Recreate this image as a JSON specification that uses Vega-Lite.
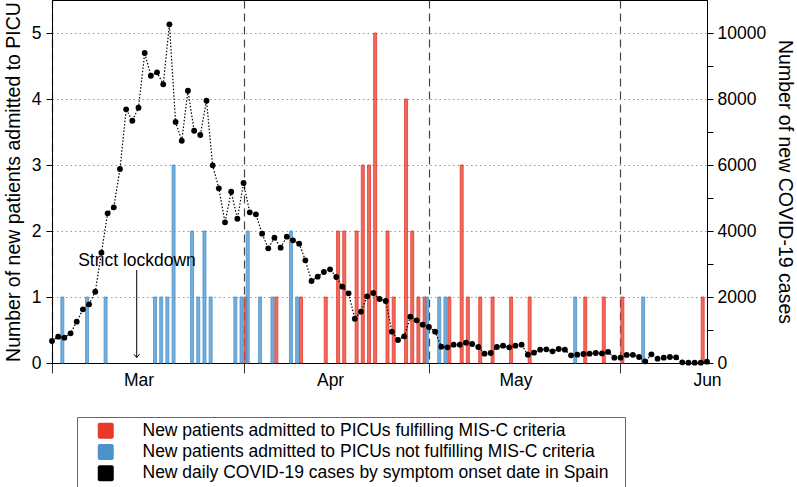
{
  "$schema": "https://vega.github.io/schema/vega-lite/v6.json",
  "width": 655,
  "height": 363,
  "autosize": {"type": "none"},
  "padding": {"left": 52, "top": 0, "right": 90, "bottom": 124},
  "background": "white",
  "config": {
    "font": "Liberation Sans",
    "view": {"stroke": "black", "strokeWidth": 1},
    "axis": {
      "labelFont": "Liberation Sans",
      "titleFont": "Liberation Sans",
      "labelFontSize": 17.5,
      "titleFontSize": 19.5,
      "titleFontWeight": "normal",
      "labelColor": "black",
      "titleColor": "black",
      "domainColor": "black",
      "tickColor": "black",
      "domainWidth": 1,
      "tickWidth": 1
    }
  },
  "datasets": {
    "cases": [
      {"date": "2020-03-01", "cases": 667}, {"date": "2020-03-02", "cases": 797}, {"date": "2020-03-03", "cases": 767},
      {"date": "2020-03-04", "cases": 900}, {"date": "2020-03-05", "cases": 1252}, {"date": "2020-03-06", "cases": 1627},
      {"date": "2020-03-07", "cases": 1779}, {"date": "2020-03-08", "cases": 2160}, {"date": "2020-03-09", "cases": 3342},
      {"date": "2020-03-10", "cases": 4535}, {"date": "2020-03-11", "cases": 4718}, {"date": "2020-03-12", "cases": 5878},
      {"date": "2020-03-13", "cases": 7687}, {"date": "2020-03-14", "cases": 7342}, {"date": "2020-03-15", "cases": 7736},
      {"date": "2020-03-16", "cases": 9393}, {"date": "2020-03-17", "cases": 8705}, {"date": "2020-03-18", "cases": 8808},
      {"date": "2020-03-19", "cases": 8445}, {"date": "2020-03-20", "cases": 10262}, {"date": "2020-03-21", "cases": 7302},
      {"date": "2020-03-22", "cases": 6736}, {"date": "2020-03-23", "cases": 8251}, {"date": "2020-03-24", "cases": 7039},
      {"date": "2020-03-25", "cases": 6908}, {"date": "2020-03-26", "cases": 7948}, {"date": "2020-03-27", "cases": 5990},
      {"date": "2020-03-28", "cases": 5293}, {"date": "2020-03-29", "cases": 4263}, {"date": "2020-03-30", "cases": 5190},
      {"date": "2020-03-31", "cases": 4372}, {"date": "2020-04-01", "cases": 5454}, {"date": "2020-04-02", "cases": 4566},
      {"date": "2020-04-03", "cases": 4505}, {"date": "2020-04-04", "cases": 3918}, {"date": "2020-04-05", "cases": 3475},
      {"date": "2020-04-06", "cases": 3797}, {"date": "2020-04-07", "cases": 3494}, {"date": "2020-04-08", "cases": 3827},
      {"date": "2020-04-09", "cases": 3718}, {"date": "2020-04-10", "cases": 3615}, {"date": "2020-04-11", "cases": 3112},
      {"date": "2020-04-12", "cases": 2485}, {"date": "2020-04-13", "cases": 2615}, {"date": "2020-04-14", "cases": 2757},
      {"date": "2020-04-15", "cases": 2838}, {"date": "2020-04-16", "cases": 2606}, {"date": "2020-04-17", "cases": 2312},
      {"date": "2020-04-18", "cases": 2111}, {"date": "2020-04-19", "cases": 1342}, {"date": "2020-04-20", "cases": 1555},
      {"date": "2020-04-21", "cases": 2020}, {"date": "2020-04-22", "cases": 2121}, {"date": "2020-04-23", "cases": 1939},
      {"date": "2020-04-24", "cases": 1879}, {"date": "2020-04-25", "cases": 949}, {"date": "2020-04-26", "cases": 697},
      {"date": "2020-04-27", "cases": 808}, {"date": "2020-04-28", "cases": 1404}, {"date": "2020-04-29", "cases": 1293},
      {"date": "2020-04-30", "cases": 1161}, {"date": "2020-05-01", "cases": 1091}, {"date": "2020-05-02", "cases": 949},
      {"date": "2020-05-03", "cases": 494}, {"date": "2020-05-04", "cases": 475}, {"date": "2020-05-05", "cases": 555},
      {"date": "2020-05-06", "cases": 555}, {"date": "2020-05-07", "cases": 616}, {"date": "2020-05-08", "cases": 576},
      {"date": "2020-05-09", "cases": 485}, {"date": "2020-05-10", "cases": 283}, {"date": "2020-05-11", "cases": 303},
      {"date": "2020-05-12", "cases": 485}, {"date": "2020-05-13", "cases": 525}, {"date": "2020-05-14", "cases": 475},
      {"date": "2020-05-15", "cases": 525}, {"date": "2020-05-16", "cases": 555}, {"date": "2020-05-17", "cases": 253},
      {"date": "2020-05-18", "cases": 313}, {"date": "2020-05-19", "cases": 404}, {"date": "2020-05-20", "cases": 414},
      {"date": "2020-05-21", "cases": 354}, {"date": "2020-05-22", "cases": 424}, {"date": "2020-05-23", "cases": 404},
      {"date": "2020-05-24", "cases": 232}, {"date": "2020-05-25", "cases": 253}, {"date": "2020-05-26", "cases": 273},
      {"date": "2020-05-27", "cases": 283}, {"date": "2020-05-28", "cases": 303}, {"date": "2020-05-29", "cases": 290},
      {"date": "2020-05-30", "cases": 335}, {"date": "2020-05-31", "cases": 162}, {"date": "2020-06-01", "cases": 162},
      {"date": "2020-06-02", "cases": 245}, {"date": "2020-06-03", "cases": 248}, {"date": "2020-06-04", "cases": 182},
      {"date": "2020-06-05", "cases": 50}, {"date": "2020-06-06", "cases": 263}, {"date": "2020-06-07", "cases": 131},
      {"date": "2020-06-08", "cases": 162}, {"date": "2020-06-09", "cases": 182}, {"date": "2020-06-10", "cases": 172},
      {"date": "2020-06-11", "cases": 20}, {"date": "2020-06-12", "cases": 10}, {"date": "2020-06-13", "cases": 10},
      {"date": "2020-06-14", "cases": 10}, {"date": "2020-06-15", "cases": 40}
    ],
    "picu": [
      {"date": "2020-03-02", "count": 1, "group": "New patients admitted to PICUs not fulfilling MIS-C criteria"},
      {"date": "2020-03-06", "count": 1, "group": "New patients admitted to PICUs not fulfilling MIS-C criteria"},
      {"date": "2020-03-09", "count": 1, "group": "New patients admitted to PICUs not fulfilling MIS-C criteria"},
      {"date": "2020-03-17", "count": 1, "group": "New patients admitted to PICUs not fulfilling MIS-C criteria"},
      {"date": "2020-03-18", "count": 1, "group": "New patients admitted to PICUs not fulfilling MIS-C criteria"},
      {"date": "2020-03-19", "count": 1, "group": "New patients admitted to PICUs not fulfilling MIS-C criteria"},
      {"date": "2020-03-20", "count": 3, "group": "New patients admitted to PICUs not fulfilling MIS-C criteria"},
      {"date": "2020-03-23", "count": 2, "group": "New patients admitted to PICUs not fulfilling MIS-C criteria"},
      {"date": "2020-03-24", "count": 1, "group": "New patients admitted to PICUs not fulfilling MIS-C criteria"},
      {"date": "2020-03-25", "count": 2, "group": "New patients admitted to PICUs not fulfilling MIS-C criteria"},
      {"date": "2020-03-26", "count": 1, "group": "New patients admitted to PICUs not fulfilling MIS-C criteria"},
      {"date": "2020-03-30", "count": 1, "group": "New patients admitted to PICUs not fulfilling MIS-C criteria"},
      {"date": "2020-03-31", "count": 1, "group": "New patients admitted to PICUs not fulfilling MIS-C criteria"},
      {"date": "2020-04-01", "count": 2, "group": "New patients admitted to PICUs not fulfilling MIS-C criteria"},
      {"date": "2020-04-03", "count": 1, "group": "New patients admitted to PICUs not fulfilling MIS-C criteria"},
      {"date": "2020-04-05", "count": 1, "group": "New patients admitted to PICUs not fulfilling MIS-C criteria"},
      {"date": "2020-04-08", "count": 2, "group": "New patients admitted to PICUs not fulfilling MIS-C criteria"},
      {"date": "2020-04-09", "count": 1, "group": "New patients admitted to PICUs not fulfilling MIS-C criteria"},
      {"date": "2020-04-30", "count": 1, "group": "New patients admitted to PICUs not fulfilling MIS-C criteria"},
      {"date": "2020-05-02", "count": 1, "group": "New patients admitted to PICUs not fulfilling MIS-C criteria"},
      {"date": "2020-05-03", "count": 1, "group": "New patients admitted to PICUs not fulfilling MIS-C criteria"},
      {"date": "2020-05-24", "count": 1, "group": "New patients admitted to PICUs not fulfilling MIS-C criteria"},
      {"date": "2020-06-04", "count": 1, "group": "New patients admitted to PICUs not fulfilling MIS-C criteria"},
      {"date": "2020-04-01", "count": 1, "group": "New patients admitted to PICUs fulfilling MIS-C criteria"},
      {"date": "2020-04-06", "count": 1, "group": "New patients admitted to PICUs fulfilling MIS-C criteria"},
      {"date": "2020-04-10", "count": 1, "group": "New patients admitted to PICUs fulfilling MIS-C criteria"},
      {"date": "2020-04-14", "count": 1, "group": "New patients admitted to PICUs fulfilling MIS-C criteria"},
      {"date": "2020-04-16", "count": 2, "group": "New patients admitted to PICUs fulfilling MIS-C criteria"},
      {"date": "2020-04-17", "count": 2, "group": "New patients admitted to PICUs fulfilling MIS-C criteria"},
      {"date": "2020-04-19", "count": 2, "group": "New patients admitted to PICUs fulfilling MIS-C criteria"},
      {"date": "2020-04-20", "count": 3, "group": "New patients admitted to PICUs fulfilling MIS-C criteria"},
      {"date": "2020-04-21", "count": 3, "group": "New patients admitted to PICUs fulfilling MIS-C criteria"},
      {"date": "2020-04-22", "count": 5, "group": "New patients admitted to PICUs fulfilling MIS-C criteria"},
      {"date": "2020-04-24", "count": 2, "group": "New patients admitted to PICUs fulfilling MIS-C criteria"},
      {"date": "2020-04-25", "count": 1, "group": "New patients admitted to PICUs fulfilling MIS-C criteria"},
      {"date": "2020-04-27", "count": 4, "group": "New patients admitted to PICUs fulfilling MIS-C criteria"},
      {"date": "2020-04-28", "count": 2, "group": "New patients admitted to PICUs fulfilling MIS-C criteria"},
      {"date": "2020-04-29", "count": 1, "group": "New patients admitted to PICUs fulfilling MIS-C criteria"},
      {"date": "2020-04-30", "count": 1, "group": "New patients admitted to PICUs fulfilling MIS-C criteria"},
      {"date": "2020-05-04", "count": 1, "group": "New patients admitted to PICUs fulfilling MIS-C criteria"},
      {"date": "2020-05-06", "count": 3, "group": "New patients admitted to PICUs fulfilling MIS-C criteria"},
      {"date": "2020-05-07", "count": 1, "group": "New patients admitted to PICUs fulfilling MIS-C criteria"},
      {"date": "2020-05-09", "count": 1, "group": "New patients admitted to PICUs fulfilling MIS-C criteria"},
      {"date": "2020-05-11", "count": 1, "group": "New patients admitted to PICUs fulfilling MIS-C criteria"},
      {"date": "2020-05-14", "count": 1, "group": "New patients admitted to PICUs fulfilling MIS-C criteria"},
      {"date": "2020-05-17", "count": 1, "group": "New patients admitted to PICUs fulfilling MIS-C criteria"},
      {"date": "2020-05-26", "count": 1, "group": "New patients admitted to PICUs fulfilling MIS-C criteria"},
      {"date": "2020-05-29", "count": 1, "group": "New patients admitted to PICUs fulfilling MIS-C criteria"},
      {"date": "2020-06-01", "count": 1, "group": "New patients admitted to PICUs fulfilling MIS-C criteria"},
      {"date": "2020-06-14", "count": 1, "group": "New patients admitted to PICUs fulfilling MIS-C criteria"}
    ],
    "notes": [{"date": "2020-03-15", "label": "Strict lockdown"}]
  },
  "encoding": {
    "x": {
      "field": "date",
      "type": "temporal",
      "scale": {
        "type": "utc",
        "padding": 0,
        "domain": [
          {"year": 2020, "month": 3, "date": 1, "utc": true},
          {"year": 2020, "month": 6, "date": 15, "utc": true}
        ]
      },
      "axis": {
        "title": null,
        "values": [
          {"year": 2020, "month": 3, "date": 1, "utc": true},
          {"year": 2020, "month": 3, "date": 15, "utc": true},
          {"year": 2020, "month": 4, "date": 1, "utc": true},
          {"year": 2020, "month": 4, "date": 15, "utc": true},
          {"year": 2020, "month": 5, "date": 1, "utc": true},
          {"year": 2020, "month": 5, "date": 15, "utc": true},
          {"year": 2020, "month": 6, "date": 1, "utc": true},
          {"year": 2020, "month": 6, "date": 15, "utc": true}
        ],
        "labelExpr": "utcdate(datum.value) == 15 ? utcFormat(datum.value, '%b') : ''",
        "labelFlush": false,
        "labelOverlap": false,
        "labelPadding": 8,
        "tickSize": {"condition": {"test": "utcdate(datum.value) == 1", "value": 10}, "value": 0},
        "tickColor": "#333",
        "grid": true,
        "gridOpacity": {"condition": {"test": "utcdate(datum.value) == 1", "value": 1}, "value": 0},
        "gridColor": "#444",
        "gridDash": [8, 5],
        "gridWidth": 1.2
      }
    }
  },
  "layer": [
    {
      "layer": [
        {
          "data": {"name": "picu"},
          "transform": [{"filter": "datum.group == 'New patients admitted to PICUs fulfilling MIS-C criteria'"}],
          "mark": {"type": "bar", "width": 3, "xOffset": 1.85, "stroke": "#E8392B", "strokeWidth": 0.8, "fillOpacity": 0.75},
          "encoding": {
            "y": {
              "field": "count",
              "type": "quantitative",
              "scale": {"domain": [0, 5.5], "nice": false},
              "axis": {
                "title": "Number of new patients admitted to PICU",
                "values": [0, 1, 2, 3, 4, 5],
                "format": "d",
                "grid": true,
                "gridColor": "#999",
                "gridDash": [1.5, 3],
                "tickSize": 6,
                "labelPadding": 5,
                "titlePadding": 8
              }
            },
            "color": {
              "field": "group",
              "type": "nominal",
              "scale": {
                "domain": [
                  "New patients admitted to PICUs fulfilling MIS-C criteria",
                  "New patients admitted to PICUs not fulfilling MIS-C criteria",
                  "New daily COVID-19 cases by symptom onset date in Spain"
                ],
                "range": ["#E8392B", "#4A93CB", "#000000"]
              },
              "legend": {
                "title": "\u00a0\u00a0",
                "titleOrient": "right",
                "titlePadding": 12,
                "titleFontSize": 17.5,
                "orient": "none",
                "legendX": 25,
                "legendY": 417,
                "symbolType": "M -0.75 -1 L 0.75 -1 Q 1 -1 1 -0.75 L 1 0.75 Q 1 1 0.75 1 L -0.75 1 Q -1 1 -1 0.75 L -1 -0.75 Q -1 -1 -0.75 -1 Z",
                "symbolSize": 256,
                "symbolStrokeWidth": 0,
                "symbolOpacity": 1,
                "labelFontSize": 17.5,
                "labelFont": "Liberation Sans",
                "labelColor": "black",
                "labelLimit": 1000,
                "padding": 5,
                "rowPadding": 2.2,
                "strokeColor": "#666",
                "fillColor": "white",
                "symbolOffset": 15,
                "labelOffset": 28
              }
            }
          }
        },
        {
          "data": {"name": "picu"},
          "transform": [{"filter": "datum.group == 'New patients admitted to PICUs not fulfilling MIS-C criteria'"}],
          "mark": {"type": "bar", "width": 3, "xOffset": 4.15, "stroke": "#4A93CB", "strokeWidth": 0.8, "fillOpacity": 0.75},
          "encoding": {
            "y": {"field": "count", "type": "quantitative", "title": "Number of new patients admitted to PICU"},
            "color": {"field": "group", "type": "nominal"}
          }
        },
        {
          "data": {"name": "notes"},
          "mark": {"type": "rule", "xOffset": -1.8, "color": "black", "strokeWidth": 1},
          "encoding": {
            "y": {"datum": 1.41, "type": "quantitative", "title": "Number of new patients admitted to PICU"},
            "y2": {"datum": 0.09}
          }
        },
        {
          "data": {"name": "notes"},
          "mark": {"type": "point", "shape": "M -1 -1.3 L 0 0 L 1 -1.3", "filled": false, "color": "black", "strokeWidth": 1, "size": 30, "xOffset": -1.8, "opacity": 1},
          "encoding": {
            "y": {"datum": 0.08, "type": "quantitative", "title": "Number of new patients admitted to PICU"}
          }
        },
        {
          "data": {"name": "notes"},
          "mark": {"type": "text", "fontSize": 17.5, "font": "Liberation Sans", "xOffset": -1.5, "align": "center", "baseline": "middle", "color": "black"},
          "encoding": {
            "y": {"datum": 1.55, "type": "quantitative", "title": "Number of new patients admitted to PICU"},
            "text": {"field": "label"}
          }
        }
      ]
    },
    {
      "data": {"name": "cases"},
      "encoding": {
        "y": {
          "field": "cases",
          "type": "quantitative",
          "scale": {"domain": [0, 11000], "nice": false},
          "axis": {
            "orient": "right",
            "title": "Number of new COVID-19 cases",
            "values": [0, 1000, 2000, 3000, 4000, 5000, 6000, 7000, 8000, 9000, 10000],
            "format": "d",
            "labelExpr": "datum.value % 2000 == 0 ? datum.label : ''",
            "grid": false,
            "tickSize": 6,
            "labelPadding": 4,
            "titlePadding": 9
          }
        }
      },
      "layer": [
        {"mark": {"type": "line", "color": "black", "strokeDash": [1.5, 1.8], "strokeWidth": 1.2}},
        {
          "mark": {"type": "point", "filled": true, "size": 34, "opacity": 1, "shape": "circle"},
          "encoding": {"color": {"datum": "New daily COVID-19 cases by symptom onset date in Spain", "type": "nominal"}}
        }
      ]
    }
  ],
  "resolve": {"scale": {"y": "independent"}}
}
